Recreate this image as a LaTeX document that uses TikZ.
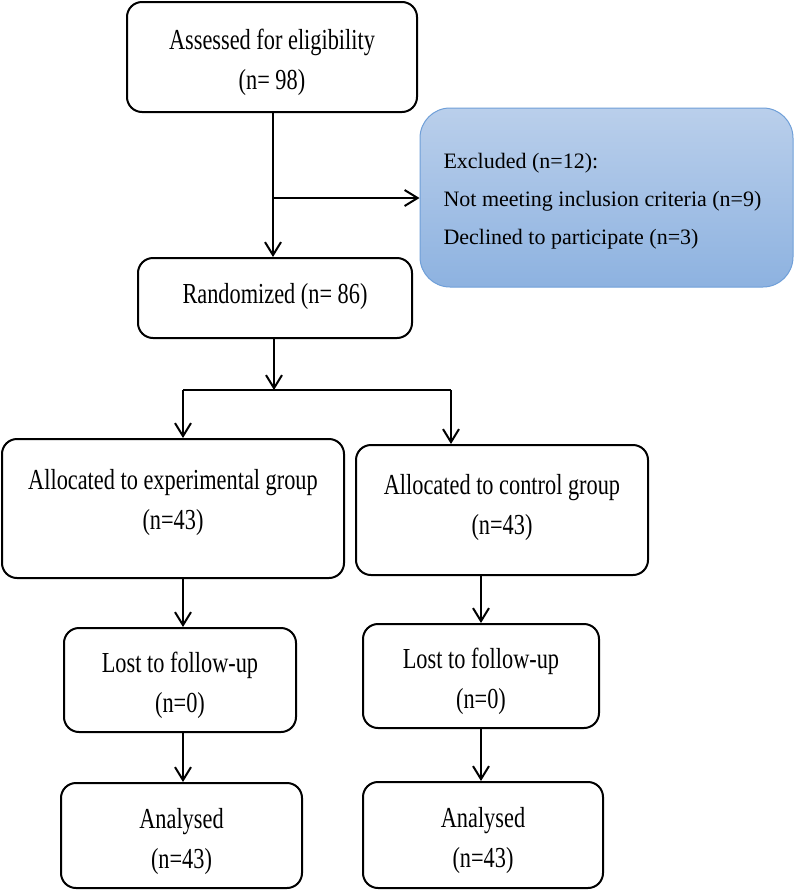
\documentclass[tikz,border=0pt]{standalone}
\usepackage{fontspec}
\setmainfont{Liberation Serif}
\newfontfamily\boxfont[FakeStretch=0.77]{Liberation Serif}
\usetikzlibrary{arrows.meta, positioning}
\definecolor{excltop}{HTML}{BACFEB}
\definecolor{exclbot}{HTML}{8DB2E0}
\definecolor{excledge}{HTML}{6F9FD8}
\newcommand{\topgap}{\rule{0pt}{32pt}}

\begin{document}
\begin{tikzpicture}[x=1pt, y=-1pt,
  box/.style={draw, line width=2pt, rounded corners=15pt, align=center,
    inner sep=0pt, font=\boxfont\fontsize{29}{40}\selectfont},
  arr/.style={line width=2pt, -{Straight Barb[length=13pt,width=16pt]}},
  link/.style={line width=2pt}]
\useasboundingbox (0,0) rectangle (796,892);

% Screening
\node[box, minimum width=290pt, minimum height=110pt] (assess) at (272,57)
  {\topgap Assessed for eligibility\\(n= 98)};
\node[draw=excledge, line width=1pt, rounded corners=30pt, top color=excltop,
  bottom color=exclbot, minimum width=373pt, minimum height=179pt] (excl) at (606.5,197.5) {};
\node[anchor=west, align=left, font=\fontsize{22}{38}\selectfont] (excltext) at (440,201)
  {Excluded (n=12):\\Not meeting inclusion criteria (n=9)\\Declined to participate (n=3)};
\node[box, minimum width=274pt, minimum height=80pt] (rand) at (275,298)
  {\topgap Randomized (n= 86)\rule[-22pt]{0pt}{0pt}};

% Allocation
\node[box, minimum width=342pt, minimum height=139pt] (exp) at (173,508.5)
  {\topgap Allocated to experimental group\\(n=43)\rule[-31pt]{0pt}{0pt}};
\node[box, minimum width=292pt, minimum height=130pt] (ctrl) at (502,510)
  {\topgap Allocated to control group\\(n=43)\rule[-24pt]{0pt}{0pt}};

% Follow-up
\node[box, minimum width=232pt, minimum height=104pt] (lostL) at (180,680)
  {\topgap Lost to follow-up\\(n=0)};
\node[box, minimum width=236pt, minimum height=104pt] (lostR) at (481,676)
  {\topgap Lost to follow-up\\(n=0)};

% Analysis
\node[box, minimum width=241pt, minimum height=105pt] (anaL) at (181.5,835.5)
  {\topgap Analysed\\(n=43)};
\node[box, minimum width=240pt, minimum height=106pt] (anaR) at (483,835)
  {\topgap Analysed\\(n=43)};

% Connectors
\coordinate (split) at (273,198);
\coordinate (fork) at (274,390);
\coordinate (forkL) at (183,390);
\coordinate (forkR) at (451,390);
\draw[arr] (assess.south -| split) -- (rand.north -| split);
\draw[arr] (split) -- (excl.west |- split);
\draw[arr] (rand.south -| fork) -- (fork);
\draw[link] (forkL) -- (forkR);
\draw[arr] (forkL) -- (exp.north -| forkL);
\draw[arr] (forkR) -- (ctrl.north -| forkR);
\draw[arr] (exp.south -| forkL) -- (lostL.north -| forkL);
\draw[arr] (lostL.south -| forkL) -- (anaL.north -| forkL);
\draw[arr] (ctrl.south -| lostR) -- (lostR.north);
\draw[arr] (lostR.south) -- (anaR.north -| lostR.south);
\end{tikzpicture}
\end{document}
